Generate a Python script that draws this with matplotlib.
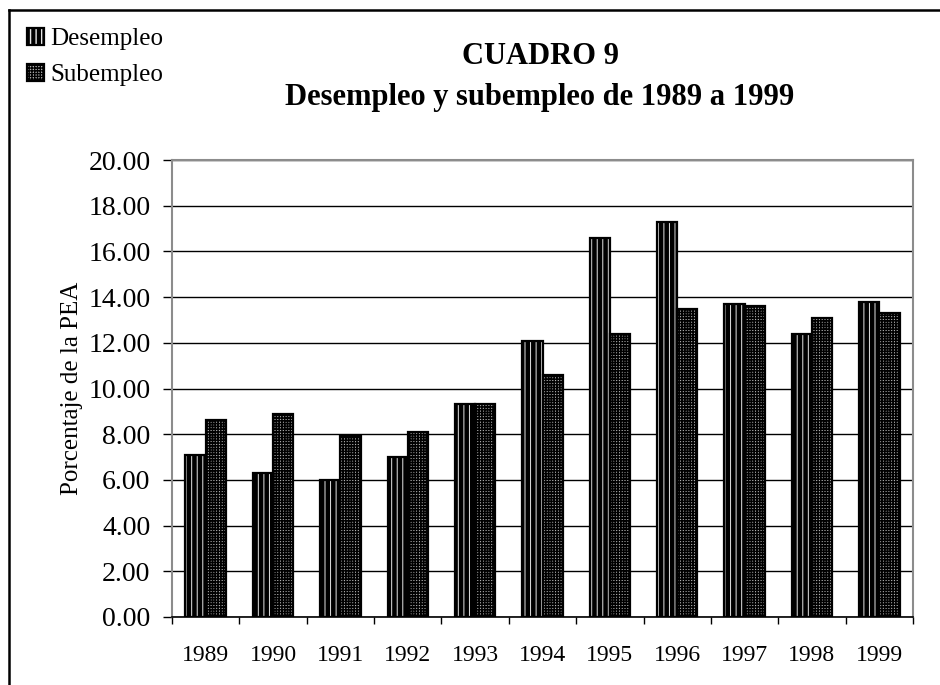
import numpy as np
import matplotlib.pyplot as plt
from matplotlib.lines import Line2D

# ============================================================
# DATA
# ============================================================
years = ["1989", "1990", "1991", "1992", "1993", "1994",
         "1995", "1996", "1997", "1998", "1999"]
desempleo = [7.1, 6.3, 6.0, 7.0, 9.3, 12.1, 16.6, 17.3, 13.7, 12.4, 13.8]
subempleo = [8.6, 8.9, 7.9, 8.1, 9.3, 10.6, 12.4, 13.5, 13.6, 13.1, 13.3]

# ============================================================
# FIGURE
# ============================================================
plt.rcParams['font.family'] = ['Liberation Serif', 'DejaVu Serif']

fig = plt.figure(figsize=(9.4, 6.85), dpi=100)
ax = fig.add_axes([172/940, 1 - 617/685, (913 - 172)/940, (617 - 160)/685])

x = np.arange(len(years))
w = 0.3


def hatched_bars(xpos, vals, face, hcolor, hatch, hlw):
    # base fill, hatch overlay and black outline drawn as three layers
    base = ax.bar(xpos, vals, w, color=face, linewidth=0, zorder=3)
    with plt.rc_context({'hatch.linewidth': hlw}):
        hat = ax.bar(xpos, vals, w, facecolor='none', edgecolor=hcolor,
                     hatch=hatch, linewidth=0, zorder=4)
    edge = ax.bar(xpos, vals, w, facecolor='none', edgecolor='black',
                  linewidth=1.6, zorder=5)
    return base, hat, edge


d_bars = hatched_bars(x - w/2, desempleo, 'black', '#e6e6e6', '|||', 0.7)
s_bars = hatched_bars(x + w/2, subempleo, '#b4b4b4', 'black', '++++++', 1.15)

# axes styling
ax.set_xlim(-0.5, len(years) - 0.5)
ax.set_ylim(0, 20)
ax.set_yticks(np.arange(0, 21, 2))
ax.set_yticklabels([f"{v:.2f}" for v in np.arange(0, 21, 2)], fontsize=20)
ax.tick_params(axis='y', direction='out', length=6.5, width=1, pad=9)

ax.set_xticks(np.arange(-0.5, len(years), 1))
ax.set_xticklabels([])
ax.set_xticks(x, minor=True)
ax.set_xticklabels(years, minor=True, fontsize=17)
ax.tick_params(axis='x', which='major', direction='out', length=5, width=1)
ax.tick_params(axis='x', which='minor', length=0, pad=20)

ax.yaxis.grid(True, color='black', linewidth=1)
ax.set_axisbelow(True)

for side in ['top', 'right', 'left']:
    ax.spines[side].set_color('#8c8c8c')
    ax.spines[side].set_linewidth(1.5)
ax.spines['bottom'].set_color('black')
ax.spines['bottom'].set_linewidth(1.2)

ax.set_ylabel("Porcentaje de la PEA", fontsize=18, labelpad=4)

# titles
fig.text(540/940, 1 - 57/685, "CUADRO 9", ha='center', va='center',
         fontsize=22, fontweight='bold')
fig.text(540/940, 1 - 98/685, "Desempleo y subempleo de 1989 a 1999",
         ha='center', va='center', fontsize=22, fontweight='bold')

# legend
handles = [tuple(b[0] for b in d_bars), tuple(b[0] for b in s_bars)]
fig.legend(handles, ["Desempleo", "Subempleo"], loc='upper left',
           bbox_to_anchor=(27/940, 1 - 28/685), frameon=False, fontsize=18,
           handlelength=0.68, handleheight=0.68, handletextpad=0.25,
           labelspacing=0.55, borderpad=0, borderaxespad=0)

# figure border (left and top edges)
fig.add_artist(Line2D([9/940, 9/940], [0, 1 - 10/685], color='black',
                      linewidth=1.8, transform=fig.transFigure))
fig.add_artist(Line2D([9/940, 1], [1 - 10/685, 1 - 10/685], color='black',
                      linewidth=1.8, transform=fig.transFigure))

fig.savefig("out.png", dpi=100)
